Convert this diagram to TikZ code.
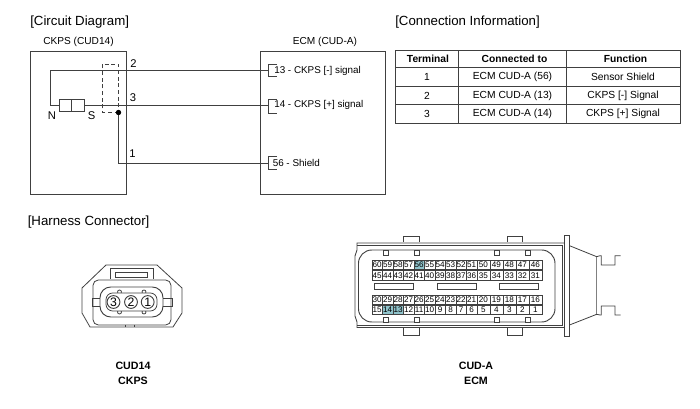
\documentclass[tikz,border=0pt]{standalone}
\usepackage{fontspec}
\setmainfont{Liberation Sans}
\definecolor{pinteal}{HTML}{8FC3CB}
\definecolor{wiregray}{gray}{0.25}
\tikzset{
  sectiontitle/.style={anchor=west, inner sep=0pt, font=\fontsize{9.95}{11}\selectfont},
  boxtitle/.style={font=\fontsize{7.6}{9}\selectfont},
  signaltext/.style={anchor=west, inner sep=0pt, font=\fontsize{7.4}{9}\selectfont},
  pintext/.style={font=\fontsize{8.4}{10}\selectfont},
  tablehead/.style={font=\fontsize{7.7}{9}\selectfont\bfseries},
  tablecell/.style={font=\fontsize{7.7}{9}\selectfont},
  captiontext/.style={font=\fontsize{8}{9}\selectfont\bfseries},
  wire/.style={draw=wiregray, line width=0.7pt},
  thinline/.style={draw=wiregray, line width=0.6pt},
  cavity/.style={circle, draw=wiregray, line width=0.7pt, fill=white, inner sep=0pt, minimum size=9.6pt, font=\fontsize{9.2}{10}\selectfont},
  pincell/.style={draw=wiregray, line width=0.4pt, inner sep=0pt, minimum height=7.1pt, anchor=north west, font=\fontsize{6.1}{7}\selectfont},
}
\begin{document}
\begin{tikzpicture} [x=0.75pt, y=-0.75pt]
\useasboundingbox (0,0) rectangle (700,409);

% circuit diagram
\node [sectiontitle] (circuittitle) at (30,22) {[Circuit Diagram]};
\node [boxtitle] (ckpstitle) at (78.5,42) {CKPS (CUD14)};
\node [boxtitle] (ecmtitle) at (325,41.5) {ECM (CUD-A)};

\draw [wire] (30,51) rectangle (126,194);
\draw [wire] (260,51) -- (385,51) -- (385,194) -- (260,194) -- cycle;

\draw [wire, fill=white] (59,99.5) rectangle (71.5,111);
\draw [wire, fill=white] (71.5,99.5) rectangle (84,111);
\coordinate (magnetn) at (59,105.5);
\coordinate (magnets) at (84,105.5);
\coordinate (shieldjoint) at (118.5,112.5);

\coordinate (ecmtop) at (268,70.5);
\coordinate (ecmmid) at (268,105.5);
\coordinate (ecmlow) at (268,163);

\draw [wire] (magnetn) -- (50,105.5) -- (50,70.5) -- (ecmtop);
\draw [wire] (magnets) -- (ecmmid);
\draw [wire] (shieldjoint) -- (118.5,163) -- (ecmlow);
\draw [thinline, densely dashed] (shieldjoint) -- (102.5,112.5) -- (102.5,64) -- (118.5,64) -- (shieldjoint);
\fill [black] (shieldjoint) circle (2.7);

\draw [thinline] (277,64) -- (268.5,64) -- (268.5,76.5) -- (277,76.5);
\draw [thinline] (277,99) -- (268.5,99) -- (268.5,113) -- (277,113);
\draw [thinline] (277,156) -- (268.5,156) -- (268.5,169) -- (277,169);

\node [signaltext] (sig13) at (274,71) {13 - CKPS [-] signal};
\node [signaltext] (sig14) at (274,105) {14 - CKPS [+] signal};
\node [signaltext] (sig56) at (272.5,162.5) {56 - Shield};

\node [pintext] (pinn) at (52,116) {N};
\node [pintext] (pins) at (91.5,116) {S};
\node [pintext] (pin2) at (133.5,64) {2};
\node [pintext] (pin3) at (133,98) {3};
\node [pintext] (pin1) at (132.5,154) {1};

% connection table
\node [sectiontitle] (tabletitle) at (395,22) {[Connection Information]};
\draw [wire] (395,50.5) rectangle (680,123);
\draw [wire] (395,67) -- (680,67);
\draw [thinline] (395,86) -- (680,86);
\draw [thinline] (395,104.5) -- (680,104.5);
\draw [thinline] (458.5,50.5) -- (458.5,123);
\draw [thinline] (566,50.5) -- (566,123);

\node [tablehead] (headterm) at (428,59) {Terminal};
\node [tablehead] (headconn) at (514.5,59) {Connected to};
\node [tablehead] (headfunc) at (625.5,59) {Function};
\node [tablecell] (term1) at (427,77) {1};
\node [tablecell] (term2) at (427,95.5) {2};
\node [tablecell] (term3) at (427,114) {3};
\node [tablecell] (conn1) at (512.5,77) {ECM CUD-A (56)};
\node [tablecell] (conn2) at (512.5,95.5) {ECM CUD-A (13)};
\node [tablecell] (conn3) at (512.5,114) {ECM CUD-A (14)};
\node [tablecell] (func1) at (623,77) {Sensor Shield};
\node [tablecell] (func2) at (623,95.5) {CKPS [-] Signal};
\node [tablecell] (func3) at (623,114) {CKPS [+] Signal};

% harness connector
\node [sectiontitle] (harnesstitle) at (27.5,222) {[Harness Connector]};

\draw [thinline] (106,265) -- (157,265) -- (182,288) -- (182,313) -- (173,327) -- (90,327) -- (82,313) -- (82,288) -- cycle;
\draw [thinline] (110,279) -- (110,268) -- (153,268) -- (153,279);
\draw [thinline] (115,272) rectangle (147,277);
\draw [thinline, rounded corners=4] (93,280) rectangle (171,325);
\draw [thinline] (100,298) -- (92,298) -- (92,306) -- (100,306);
\draw [thinline] (163,298) -- (172,298) -- (172,306) -- (163,306);
\draw [thinline] (125,325) -- (125,327);
\draw [thinline] (134,325) -- (134,327);
\draw [wire, rounded corners=8] (100,287) rectangle (163,317);
\foreach \cx in {119.5,144} {
  \draw [thinline, fill=white] (\cx,292) circle (2);
  \draw [thinline, fill=white] (\cx,312) circle (2);
}
\draw [thinline, fill=white, rounded corners=5] (106,293) rectangle (157,311);
\node [cavity] (cav3) at (113.5,302) {3};
\node [cavity] (cav2) at (131,302) {2};
\node [cavity] (cav1) at (147.7,302) {1};

\node [captiontext] (capa1) at (133,366) {CUD14};
\node [captiontext] (capa2) at (133,381) {CKPS};

% ecm connector body
\draw [thinline] (403,242) -- (403,236) -- (419,236) -- (419,242);
\draw [thinline] (507,242) -- (507,236) -- (522,236) -- (522,242);
\draw [thinline] (403,328) -- (403,335) -- (419,335) -- (419,328);
\draw [thinline] (507,328) -- (507,335) -- (522,335) -- (522,328);
\draw [wire] (355,256) -- (357,250) -- (357,243) -- (564,243);
\draw [thinline] (357,245) -- (562,245) -- (562,325.5) -- (357,325.5);
\draw [wire] (564,327.5) -- (357,327.5) -- (357,322) -- (355,316) -- (355,256);
\draw [wire, fill=white, rounded corners=10] (358.5,250) rectangle (555,322);
\draw [wiregray, fill=white, line width=0.6pt] (564.7,235) rectangle (569.5,336.5);

\foreach \nx in {383,414,494,525} {
  \draw [thinline, fill=white] (\nx,250) rectangle ++(5,5);
  \draw [thinline, fill=white] (\nx,322) rectangle ++(5,-5);
}

% ecm connector tail
\draw [thinline] (569.5,245.7) -- (596.7,256.7) -- (600,255.7) -- (601.3,255.7) -- (601.3,265) -- (615,265) -- (615,255.7) -- (620.7,255.7);
\draw [thinline] (569.5,325) -- (596.7,314.3) -- (600,315) -- (601.3,315) -- (601.3,306) -- (615,306) -- (615,315) -- (620.7,315);
\draw [gray, line width=0.8pt] (596.7,256.7) -- (596.7,314.3);

% ecm pin cells
\fill [pinteal] (413.7,260) rectangle (424.2,269.5);
\fill [pinteal] (382.2,305) rectangle (403.2,314.5);
\foreach \ytop/\first in {260/60, 270.5/45, 295/30, 305/15} {
  \foreach \i in {0,...,14} {
    \pgfmathtruncatemacro{\pinno}{\first-\i}
    \pgfmathsetmacro{\xleft}{371.7+10.5*min(\i,10)+13*max(\i-10,0)}
    \pgfmathsetmacro{\cellw}{\i<10 ? 7.875 : 9.75}
    \node [pincell, minimum width=\cellw pt] (ecmpin\pinno) at (\xleft,\ytop) {\pinno};
  }
}
\draw [thinline] (374.3,283.3) rectangle (413.7,289);
\draw [thinline] (437.3,283.3) rectangle (476.7,289);
\draw [thinline] (499.3,283.3) rectangle (538.7,289);

\node [captiontext] (capb1) at (476,366) {CUD-A};
\node [captiontext] (capb2) at (476,381) {ECM};

\end{tikzpicture}
\end{document}
